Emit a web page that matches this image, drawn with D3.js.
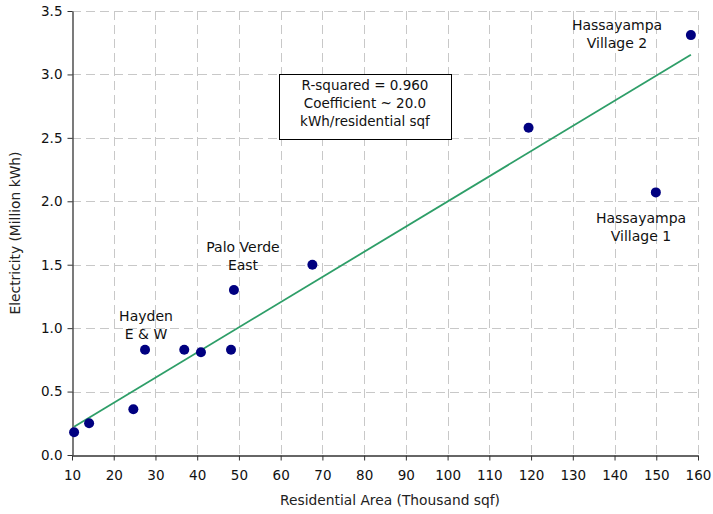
<!DOCTYPE html>
<html>
<head>
<meta charset="utf-8">
<script src="https://cdn.jsdelivr.net/npm/d3@7"></script>
<style>
    body { margin: 0; background: #fff; }
    svg { display: block; font-family: "DejaVu Sans", Verdana, sans-serif; }
</style>
</head>
<body>
<svg width="713" height="514"></svg>
<script>
// Residential area (thousand sqf) vs electricity (million kWh)
const areaValues = [10.5, 14.1, 24.7, 27.5, 36.9, 40.9, 48.1, 48.8, 67.6, 119.4, 149.9, 158.3];
const electricityValues = [0.18, 0.25, 0.36, 0.83, 0.83, 0.81, 0.83, 1.30, 1.50, 2.58, 2.07, 3.31];

// Linear trend
const trendSlope = 0.01984;
const trendIntercept = 0.0145;

const xTicks = [10, 20, 30, 40, 50, 60, 70, 80, 90, 100, 110, 120, 130, 140, 150, 160];
const yTicks = [0, 0.5, 1.0, 1.5, 2.0, 2.5, 3.0, 3.5];

const pointLabels = [
    { lines: ["Hassayampa", "Village 2"], x: 617, y: 25 },
    { lines: ["Hassayampa", "Village 1"], x: 641, y: 218 },
    { lines: ["Palo Verde", "East"], x: 243, y: 247 },
    { lines: ["Hayden", "E & W"], x: 146, y: 316 },
];
const noteLines = ["R-squared = 0.960", "Coefficient ~ 20.0", "kWh/residential sqf"];

const margin = { top: 11, right: 15, bottom: 59, left: 72 };
const width = 713, height = 514;

const svg = d3.select("svg");

const x = d3.scaleLinear().domain([10, 160]).range([margin.left, width - margin.right]);
const y = d3.scaleLinear().domain([0, 3.5]).range([height - margin.bottom, margin.top]);

// Grid
const grid = svg.append("g")
    .attr("stroke", "#c8c8c8")
    .attr("stroke-dasharray", "9,5")
    .attr("stroke-width", 1);
grid.selectAll("line.v")
    .data(xTicks.slice(1))
    .enter()
    .append("line")
    .attr("x1", (d) => Math.round(x(d)) + 0.5)
    .attr("x2", (d) => Math.round(x(d)) + 0.5)
    .attr("y1", y(3.5))
    .attr("y2", y(0));
grid.selectAll("line.h")
    .data(yTicks.slice(1))
    .enter()
    .append("line")
    .attr("y1", (d) => Math.round(y(d)) + 0.5)
    .attr("y2", (d) => Math.round(y(d)) + 0.5)
    .attr("x1", x(10))
    .attr("x2", x(160));

// Axes
const xAxis = svg.append("g")
    .attr("transform", `translate(0,${Math.round(y(0)) + 0.5})`)
    .call(d3.axisBottom(x).tickValues(xTicks).tickSize(5).tickSizeOuter(0).tickFormat(d3.format("d")));
const yAxis = svg.append("g")
    .attr("transform", `translate(${Math.round(x(10)) + 0.5},0)`)
    .call(d3.axisLeft(y).tickValues(yTicks).tickSize(5).tickSizeOuter(0).tickFormat(d3.format(".1f")));

[xAxis, yAxis].forEach((axis) => {
    axis.select(".domain").attr("stroke", "#333").attr("stroke-width", 1.3);
    axis.selectAll(".tick line").attr("stroke", "#333");
    axis.selectAll(".tick text")
        .attr("fill", "#111")
        .style("font-family", "'DejaVu Sans', Verdana, sans-serif")
        .style("font-size", "13.5px");
});
xAxis.selectAll(".tick text").attr("dy", "1.25em");
yAxis.selectAll(".tick text").attr("x", -10);

// Axis titles
svg.append("text")
    .attr("x", 390)
    .attr("y", 505)
    .attr("text-anchor", "middle")
    .attr("font-size", 13.8)
    .attr("fill", "#222")
    .text("Residential Area (Thousand sqf)");
svg.append("text")
    .attr("transform", `translate(20,${233}) rotate(-90)`)
    .attr("text-anchor", "middle")
    .attr("font-size", 13.8)
    .attr("fill", "#222")
    .text("Electricity (Million kWh)");

// Trend line across the data range
const xMin = d3.min(areaValues), xMax = d3.max(areaValues);
svg.append("line")
    .attr("x1", x(xMin))
    .attr("y1", y(trendSlope * xMin + trendIntercept))
    .attr("x2", x(xMax))
    .attr("y2", y(trendSlope * xMax + trendIntercept))
    .attr("stroke", "#2e9e68")
    .attr("stroke-width", 1.8);

// Points
svg.append("g")
    .selectAll("circle")
    .data(areaValues.map((a, i) => [a, electricityValues[i]]))
    .enter()
    .append("circle")
    .attr("cx", (d) => x(d[0]))
    .attr("cy", (d) => y(d[1]))
    .attr("r", 5)
    .attr("fill", "#000080");

// Point labels
const labels = svg.append("g")
    .attr("font-size", 14)
    .attr("fill", "#111")
    .attr("text-anchor", "middle");
pointLabels.forEach((lab) => {
    lab.lines.forEach((line, i) => {
        labels.append("text")
            .attr("x", lab.x)
            .attr("y", lab.y + i * 18)
            .attr("dy", "0.35em")
            .text(line);
    });
});

// Note box
const note = svg.append("g");
note.append("rect")
    .attr("x", 279.5)
    .attr("y", 74.5)
    .attr("width", 172)
    .attr("height", 65)
    .attr("fill", "#fff")
    .attr("stroke", "#000")
    .attr("stroke-width", 1);
noteLines.forEach((line, i) => {
    note.append("text")
        .attr("x", 365)
        .attr("y", 85 + i * 18.3)
        .attr("dy", "0.35em")
        .attr("text-anchor", "middle")
        .attr("font-size", 13.5)
        .attr("fill", "#111")
        .text(line);
});
</script>
</body>
</html>
